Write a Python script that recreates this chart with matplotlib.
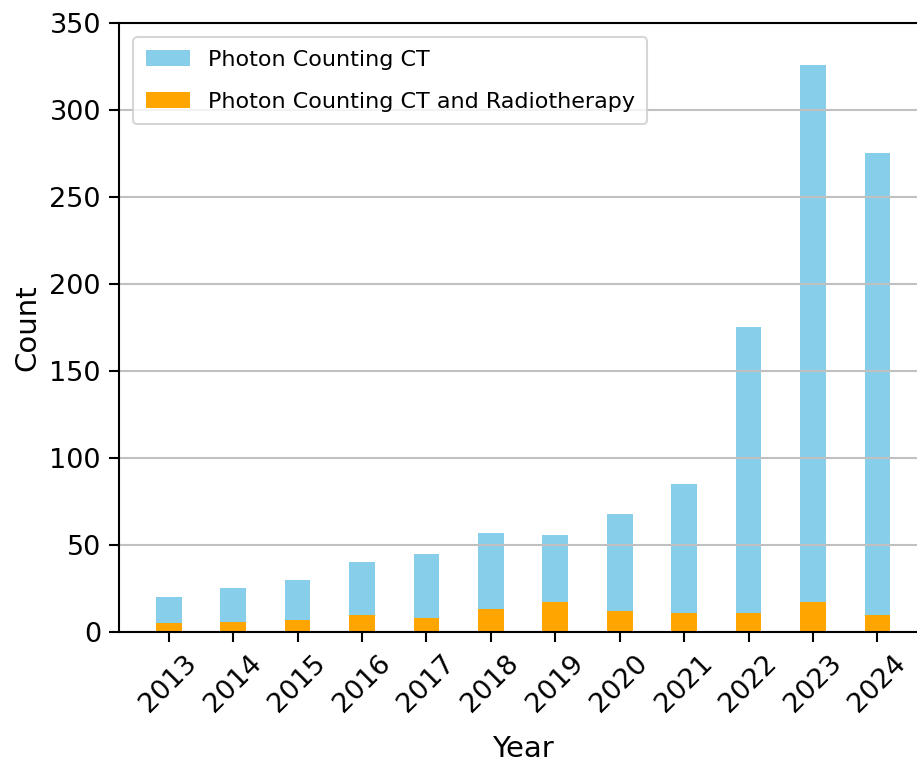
import matplotlib
matplotlib.use("Agg")
import matplotlib.pyplot as plt
import numpy as np

years = ['2013', '2014', '2015', '2016', '2017', '2018', '2019', '2020', '2021', '2022', '2023', '2024']
pcct = [20, 25, 30, 40, 45, 57, 56, 68, 85, 175, 326, 275]
pcct_rt = [5, 6, 7, 10, 8, 13, 17, 12, 11, 11, 17, 10]

x = np.arange(len(years))

fig = plt.figure(figsize=(9.17, 7.63), dpi=100)
# axes run past the right edge, like the cropped original
ax = fig.add_axes([0.1298, 0.1717, 0.8812, 0.7982])

ax.bar(x, pcct, width=0.4, color='skyblue', label='Photon Counting CT')
ax.bar(x, pcct_rt, width=0.4, color='orange', label='Photon Counting CT and Radiotherapy')

ax.set_ylim(0, 350)
ax.set_xticks(x)
ax.set_xticklabels(years, rotation=45, fontsize=19.5)
ax.tick_params(axis='both', labelsize=19.5, length=7, width=1.5, pad=6)
for sp in ax.spines.values():
    sp.set_linewidth(1.5)
ax.set_xlabel('Year', fontsize=21, labelpad=13)
ax.set_ylabel('Count', fontsize=21, labelpad=6)
ax.grid(axis='y', linewidth=1.5, color='#c0c0c0')
leg = ax.legend(loc='upper left', fontsize=16, labelspacing=1.0,
                borderpad=0.55, borderaxespad=0.65)
leg.get_frame().set_linewidth(1.5)

fig.savefig('out.png', dpi=100)
